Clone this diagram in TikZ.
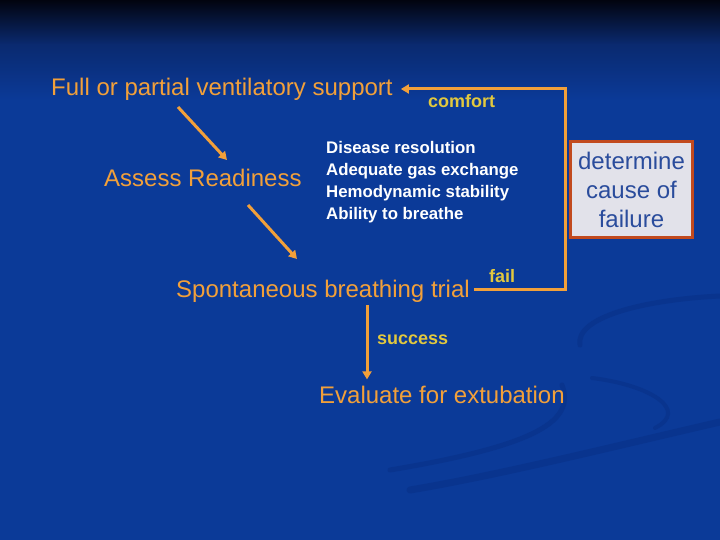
\documentclass[tikz,border=0pt]{standalone}
\usepackage{fontspec}
\setmainfont{Liberation Sans}
\usetikzlibrary{arrows.meta,positioning,calc}
\definecolor{slideblue}{HTML}{0B3A98}
\definecolor{slidetop}{HTML}{02040F}
\definecolor{slidemid}{HTML}{0A2A70}
\definecolor{swoosh}{HTML}{09348E}
\definecolor{flowgold}{HTML}{F2A03A}
\definecolor{labelgold}{HTML}{E2C83E}
\definecolor{failred}{HTML}{C24A1E}
\definecolor{boxgrey}{HTML}{E2E2EA}
\definecolor{boxtext}{HTML}{2A4C9C}

\begin{document}
\begin{tikzpicture}[
  x=1pt, y=-1pt,
  stage/.style={text=flowgold, inner sep=0pt, font=\fontsize{24}{28}\selectfont},
  tag/.style={text=labelgold, inner sep=0pt, font=\fontsize{18}{20}\selectfont\bfseries},
  flow/.style={draw=flowgold, line width=3pt, -{Triangle[length=8pt,width=9pt]}},
  causebox/.style={draw=failred, line width=3pt, fill=boxgrey, text=boxtext, align=center,
    minimum width=122pt, minimum height=96pt, inner sep=0pt, font=\fontsize{24}{29}\selectfont},
]

% slide background
\useasboundingbox (0,0) rectangle (720,540);
\fill[slideblue] (0,0) rectangle (720,540);
\shade[top color=slidetop, bottom color=slidemid] (0,0) rectangle (720,45);
\shade[top color=slidemid, bottom color=slideblue] (0,45) rectangle (720,100);
\draw[swoosh, line width=5pt, line cap=round] (720,296) .. controls (640,300) and (575,318) .. (580,345);
\draw[swoosh, line width=4pt, line cap=round] (592,378) .. controls (650,385) and (690,410) .. (655,428);
\draw[swoosh, line width=5pt, line cap=round] (562,385) .. controls (575,420) and (540,445) .. (390,470);
\draw[swoosh, line width=7pt, line cap=round] (720,422) .. controls (620,445) and (500,475) .. (410,490);

\node[stage, anchor=base west] (support) at (51,96) {Full or partial ventilatory support};
\node[stage, anchor=base west] (ready) at (104,187) {Assess Readiness};
\node[stage, anchor=base west] (trial) at (176,297) {Spontaneous breathing trial};
\node[stage, anchor=base west] (extub) at (319,403) {Evaluate for extubation};
\node[anchor=north west, inner sep=0pt, text=white, align=left,
  font=\fontsize{16.8}{22}\selectfont\bfseries] (criteria) at (326,141)
  {Disease resolution\\Adequate gas exchange\\Hemodynamic stability\\Ability to breathe};
\node[causebox] (cause) at (631.5,189.5) {determine\\cause of\\failure};

\node[tag, anchor=base west] (comfort) at (428,108) {comfort};
\node[tag, anchor=base west] (fail) at (489,282) {fail};
\node[tag, anchor=base west] (success) at (377,344) {success};

\coordinate (bend) at ([xshift=-4pt]cause.west);
\coordinate (s1) at (178,107);
\coordinate (e1) at (227,160);
\coordinate (s2) at (248,205);
\coordinate (e2) at (297,259);
\coordinate (down) at (367,305);

\draw[flow] (s1) -- (e1);
\draw[flow] (s2) -- (e2);
\draw[flow, shorten >=6pt] (down) -- (down |- extub.north);
\draw[flow] ([shift={(4pt,7.5pt)}]trial.base east) -| (bend) |- ([shift={(8pt,7pt)}]support.base east);

\end{tikzpicture}
\end{document}
